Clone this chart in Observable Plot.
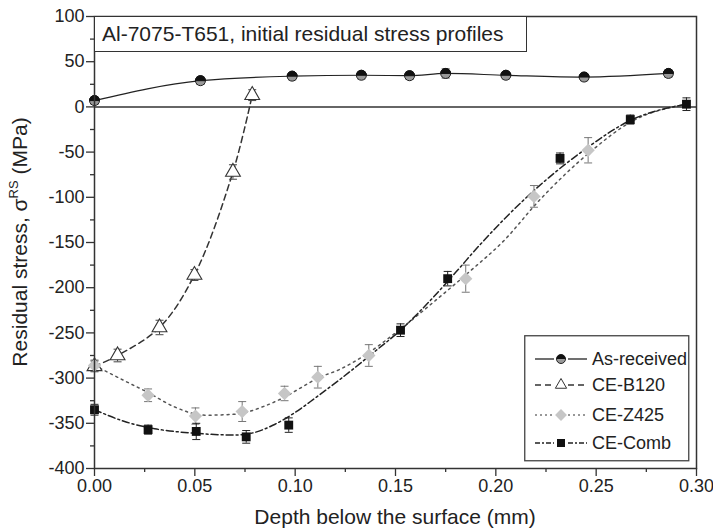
<!DOCTYPE html>
<html><head><meta charset="utf-8">
<script src="https://cdn.jsdelivr.net/npm/d3@7"></script>
<script src="https://cdn.jsdelivr.net/npm/@observablehq/plot@0.6"></script>
<style>
body{margin:0;background:#fff;font-family:"Liberation Sans",Arial,sans-serif;}
#wrap{position:relative;width:713px;height:530px;overflow:hidden;}
#title{position:absolute;left:94px;top:16px;width:433px;height:36px;border:1.5px solid #333;box-sizing:border-box;background:#fff;font-size:21px;line-height:33px;padding-left:7px;color:#222;white-space:nowrap;}
#legend{position:absolute;left:524px;top:335px;}
</style></head><body><div id="wrap"></div>
<script>
// ---- data ----
const seriesNames = ["As-received", "CE-B120", "CE-Z425", "CE-Comb"];
const titleText = "Al-7075-T651, initial residual stress profiles";
const xLabel = "Depth below the surface (mm)";

const asDepth  = [0.000, 0.0528, 0.0985, 0.133, 0.157, 0.175, 0.205, 0.244, 0.286];
const asStress = [7, 29, 34, 35, 34.5, 37, 35, 33, 37];
const asErr    = [4, 4, 4, 4, 4, 5, 4, 4, 4];

const b120Depth  = [0.000, 0.0115, 0.0324, 0.0498, 0.069, 0.0786];
const b120Stress = [-287, -275, -244, -186, -72, 13];
const b120Err    = [6, 7, 8, 6, 8, 6];

const z425Depth  = [0.000, 0.0267, 0.0503, 0.0736, 0.0947, 0.1113, 0.1367, 0.185, 0.219, 0.246];
const z425Stress = [-286, -319, -342, -337, -317, -299, -275, -190, -99, -48];
const z425Err    = [6, 7, 9, 11, 8, 12, 12, 15, 12, 14];

const combDepth  = [0.000, 0.0267, 0.0507, 0.0756, 0.0968, 0.1525, 0.176, 0.232, 0.267, 0.295];
const combStress = [-335, -357, -359, -365, -352, -247, -190, -57, -14, 3];
const combErr    = [6, 5, 9, 7, 8, 7, 8, 6, 5, 7];

// fitted curves as drawn in the reference
const z425FitDepth  = [0.000, 0.015, 0.0267, 0.04, 0.055, 0.07, 0.0847, 0.0947, 0.1026, 0.1113, 0.1226, 0.1359, 0.150, 0.170, 0.187, 0.204, 0.2214, 0.248, 0.267, 0.295];
const z425FitStress = [-286, -303, -316, -332, -341, -340, -331, -321, -311, -300, -290, -273, -250, -214, -182, -148, -104, -48, -17, 3];

const combFitDepth  = [0.000, 0.015, 0.030, 0.050, 0.070, 0.080, 0.090, 0.100, 0.110, 0.1226, 0.140, 0.1525, 0.1674, 0.180, 0.1923, 0.2139, 0.2438, 0.267, 0.295];
const combFitStress = [-335, -348, -356, -361, -363, -360, -351, -338, -322, -301, -270, -247, -214, -183, -152, -103, -48, -15, 3];

const yTicks = [-400, -350, -300, -250, -200, -150, -100, -50, 0, 50, 100];
const yMinor = [-375, -325, -275, -225, -175, -125, -75, -25, 25, 75];
const xTicks = [0, 0.05, 0.10, 0.15, 0.20, 0.25, 0.30];
const xMinor = [0.025, 0.075, 0.125, 0.175, 0.225, 0.275];

// ---- helpers ----
const rows = (xs, ys, es) => xs.map((x, i) => ({x, y: ys[i], e: es ? es[i] : 0}));
const asData = rows(asDepth, asStress, asErr);
const b120Data = rows(b120Depth, b120Stress, b120Err);
const z425Data = rows(z425Depth, z425Stress, z425Err);
const combData = rows(combDepth, combStress, combErr);
const z425Fit = rows(z425FitDepth, z425FitStress);
const combFit = rows(combFitDepth, combFitStress);

const halfTop = {draw(ctx, size) {const r = Math.sqrt(size / Math.PI); ctx.moveTo(r, 0); ctx.arc(0, 0, r, 0, Math.PI, true); ctx.closePath();}};
const capSym = {draw(ctx, size) {const w = Math.sqrt(size / Math.PI); ctx.moveTo(-w, 0); ctx.lineTo(w, 0);}};

function errMarks(data, color) {
  return [
    Plot.ruleX(data, {x: "x", y1: d => d.y - d.e, y2: d => d.y + d.e, stroke: color, strokeWidth: 1}),
    Plot.dot(data, {x: "x", y: d => d.y - d.e, symbol: capSym, r: 4, stroke: color, fill: "none", strokeWidth: 1}),
    Plot.dot(data, {x: "x", y: d => d.y + d.e, symbol: capSym, r: 4, stroke: color, fill: "none", strokeWidth: 1})
  ];
}

const FONT = "Liberation Sans, Arial, Helvetica, sans-serif";
const chart = Plot.plot({
  width: 713, height: 530,
  marginLeft: 94, marginRight: 17, marginTop: 16, marginBottom: 62,
  style: {fontFamily: FONT, fontSize: "18px", color: "#222", background: "#fff"},
  x: {domain: [0, 0.3]},
  y: {domain: [-400, 100]},
  marks: [
    Plot.axisY(yTicks, {tickSize: 8, tickPadding: 2, tickFormat: d => String(d), label: null, stroke: "#333", strokeWidth: 1.3, fontSize: 18}),
    Plot.axisY(yMinor, {tickSize: 4, tickFormat: () => "", label: null, stroke: "#333", strokeWidth: 1.3}),
    Plot.axisX(xTicks, {tickSize: 8, tickPadding: 3, tickFormat: d3.format(".2f"), label: null, stroke: "#333", strokeWidth: 1.3, fontSize: 18}),
    Plot.axisX(xMinor, {tickSize: 4, tickFormat: () => "", label: null, stroke: "#333", strokeWidth: 1.3}),
    Plot.ruleY([0], {stroke: "#333", strokeWidth: 1.5}),
    // curves
    Plot.line(asData, {x: "x", y: "y", curve: "monotone-x", stroke: "#222", strokeWidth: 1.2}),
    Plot.line(b120Data, {x: "x", y: "y", curve: "catmull-rom", stroke: "#333", strokeWidth: 1.5, strokeDasharray: "6,4"}),
    Plot.line(z425Fit, {x: "x", y: "y", curve: "monotone-x", stroke: "#555", strokeWidth: 1.5, strokeDasharray: "2,4"}),
    Plot.line(combFit, {x: "x", y: "y", curve: "monotone-x", stroke: "#222", strokeWidth: 1.5, strokeDasharray: "7,3,2,3"}),
    // error bars
    ...errMarks(asData, "#333"),
    ...errMarks(b120Data, "#444"),
    ...errMarks(z425Data, "#777"),
    ...errMarks(combData, "#222"),
    // markers
    Plot.dot(asData, {x: "x", y: "y", r: 5, fill: "#999", stroke: "#222", strokeWidth: 1}),
    Plot.dot(asData, {x: "x", y: "y", r: 5, symbol: halfTop, fill: "#111", stroke: "#111", strokeWidth: 1}),
    Plot.dot(b120Data, {x: "x", y: "y", r: 5.5, symbol: "triangle", fill: "#fff", stroke: "#333", strokeWidth: 1.1}),
    Plot.dot(z425Data, {x: "x", y: "y", r: 6, symbol: "diamond2", fill: "#c6c6c6", stroke: "none"}),
    Plot.dot(combData, {x: "x", y: "y", r: 5, symbol: "square", fill: "#111", stroke: "none"}),
    Plot.frame({stroke: "#333", strokeWidth: 1.5})
  ]
});

const wrap = document.getElementById("wrap");
wrap.appendChild(chart);
const svg = d3.select(chart);

// axis titles
svg.append("text").attr("x", 395).attr("y", 524).attr("text-anchor", "middle")
  .attr("font-family", FONT).attr("font-size", 21).attr("fill", "#222").text(xLabel);
const yl = svg.append("text").attr("transform", "translate(27,242) rotate(-90)").attr("text-anchor", "middle")
  .attr("font-family", FONT).attr("font-size", 21).attr("fill", "#222");
yl.append("tspan").text("Residual stress, \u03C3");
yl.append("tspan").attr("font-size", 13).attr("dy", -9).text("RS");
yl.append("tspan").attr("dy", 9).text(" (MPa)");

// title box
const t = document.createElement("div");
t.id = "title"; t.textContent = titleText;
wrap.appendChild(t);

// legend
const lg = d3.select(wrap).append("svg").attr("id", "legend").attr("width", 166).attr("height", 127);
lg.append("rect").attr("x", 0.75).attr("y", 0.75).attr("width", 164).attr("height", 125).attr("fill", "#fff").attr("stroke", "#444").attr("stroke-width", 1.3);
const legStyles = [
  {dash: null, stroke: "#222", sym: "as"},
  {dash: "6,4", stroke: "#333", sym: "tri"},
  {dash: "2,3", stroke: "#777", sym: "dia"},
  {dash: "5,2,2,2", stroke: "#222", sym: "sq"}
];
const legY = [24, 50, 80, 108];
seriesNames.forEach((name, i) => {
  const g = lg.append("g").attr("transform", `translate(0,${legY[i]})`);
  const s = legStyles[i];
  const l1 = g.append("line").attr("x1", 11).attr("x2", 30).attr("y1", 0).attr("y2", 0).attr("stroke", s.stroke).attr("stroke-width", 1.3);
  const l2 = g.append("line").attr("x1", 44).attr("x2", 63).attr("y1", 0).attr("y2", 0).attr("stroke", s.stroke).attr("stroke-width", 1.3);
  if (s.dash) { l1.attr("stroke-dasharray", s.dash); l2.attr("stroke-dasharray", s.dash); }
  const cx = 37;
  if (s.sym === "as") {
    g.append("circle").attr("cx", cx).attr("cy", 0).attr("r", 4.5).attr("fill", "#999").attr("stroke", "#222");
    g.append("path").attr("d", `M${cx + 4.5},0A4.5,4.5 0 0 0 ${cx - 4.5},0Z`).attr("fill", "#111");
  } else if (s.sym === "tri") {
    g.append("path").attr("d", d3.symbol(d3.symbolTriangle, 55)()).attr("transform", `translate(${cx},0)`).attr("fill", "#fff").attr("stroke", "#333");
  } else if (s.sym === "dia") {
    g.append("path").attr("d", d3.symbol(d3.symbolDiamond2, 90)()).attr("transform", `translate(${cx},0)`).attr("fill", "#c6c6c6");
  } else {
    g.append("rect").attr("x", cx - 4).attr("y", -4).attr("width", 8).attr("height", 8).attr("fill", "#111");
  }
  g.append("text").attr("x", 68).attr("y", 0).attr("dy", "0.35em").attr("font-family", FONT).attr("font-size", 18).attr("fill", "#222").text(name);
});
</script>
</body></html>
